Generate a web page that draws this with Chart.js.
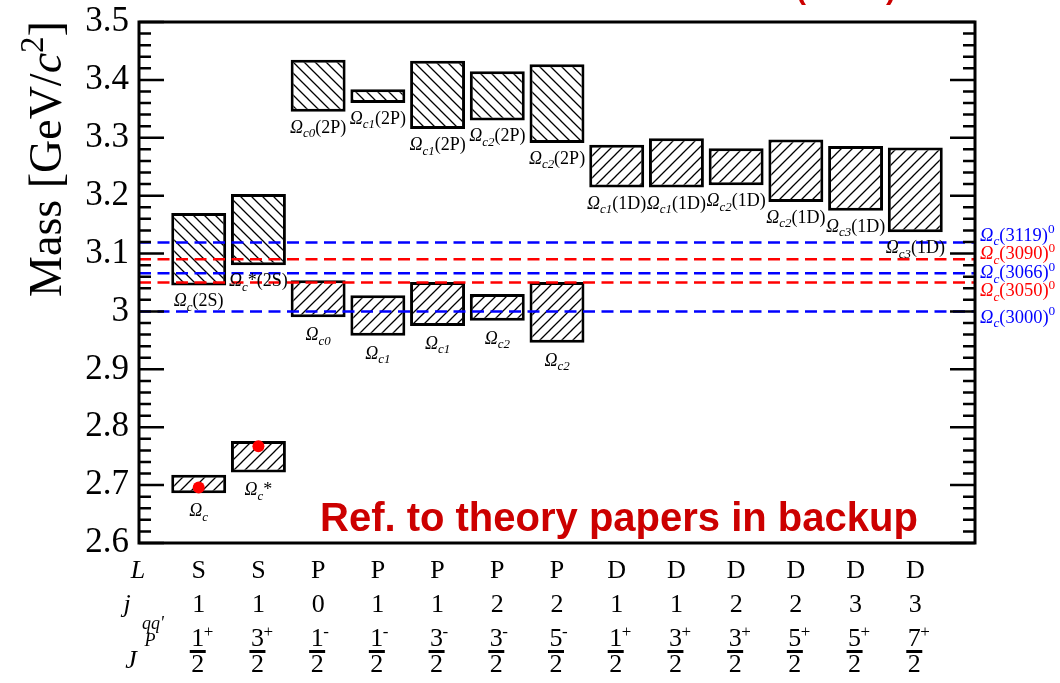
<!DOCTYPE html>
<html>
<head>
<meta charset="utf-8">
<title>Omega_c mass spectrum</title>
<script src="https://cdn.jsdelivr.net/npm/chart.js@4.4.1/dist/chart.umd.min.js"></script>
<style>
  html, body { margin: 0; padding: 0; background: #fff; }
  canvas { display: block; }
</style>
</head>
<body>
<canvas id="massChart" width="1060" height="683"></canvas>
<script>
// quantum numbers of the 13 columns
const columnL = ["S", "S", "P", "P", "P", "P", "P", "D", "D", "D", "D", "D", "D"];
const columnJqq = ["1", "1", "0", "1", "1", "2", "2", "1", "1", "2", "2", "3", "3"];
const spinNum = ["1", "3", "1", "1", "3", "3", "5", "1", "3", "3", "5", "5", "7"];
const parity = ["+", "+", "-", "-", "-", "-", "-", "+", "+", "+", "+", "+", "+"];

// predicted mass ranges (GeV), lower states (1S / 1P), columns 1..7
const groundNames = ["Ω_{c}", "Ω_{c}*", "Ω_{c0}", "Ω_{c1}", "Ω_{c1}", "Ω_{c2}", "Ω_{c2}"];
const groundLow = [2.686, 2.722, 2.990, 2.958, 2.975, 2.984, 2.946];
const groundHigh = [2.718, 2.776, 3.054, 3.028, 3.051, 3.030, 3.051];

// predicted mass ranges (GeV), excited states (2S / 2P / 1D), columns 1..13
const excitedNames = ["Ω_{c}(2S)", "Ω_{c}*(2S)", "Ω_{c0}(2P)", "Ω_{c1}(2P)", "Ω_{c1}(2P)", "Ω_{c2}(2P)", "Ω_{c2}(2P)",
  "Ω_{c1}(1D)", "Ω_{c1}(1D)", "Ω_{c2}(1D)", "Ω_{c2}(1D)", "Ω_{c3}(1D)", "Ω_{c3}(1D)"];
const excitedLow = [3.045, 3.080, 3.345, 3.360, 3.315, 3.330, 3.291, 3.214, 3.214, 3.218, 3.189, 3.174, 3.137];
const excitedHigh = [3.170, 3.203, 3.435, 3.384, 3.433, 3.415, 3.427, 3.288, 3.299, 3.282, 3.297, 3.286, 3.283];

// known ground states (red dots)
const measuredColumn = [1, 2];
const measuredMass = [2.696, 2.767];

// observed states (dashed lines)
const stateNames = ["Ω_{c}(3000)^{0}", "Ω_{c}(3050)^{0}", "Ω_{c}(3066)^{0}", "Ω_{c}(3090)^{0}", "Ω_{c}(3119)^{0}"];
const stateMass = [3.000, 3.050, 3.066, 3.090, 3.119];

const SERIF = '"Liberation Serif", "Times New Roman", serif';
const BLUE = "#0000ff";
const RED = "#ff0000";
const stateColors = [BLUE, RED, BLUE, RED, BLUE];
const stateLabelShift = [5, 7.5, -1, -6, -8]; // px, keeps the right labels apart

Chart.defaults.font.family = SERIF;

// diagonal hatch fill
function makeHatch(ctx, dir) {
  const s = 11;
  const c = document.createElement("canvas");
  c.width = s;
  c.height = s;
  const g = c.getContext("2d");
  g.fillStyle = "#fff";
  g.fillRect(0, 0, s, s);
  g.strokeStyle = "#000";
  g.lineWidth = 1.3;
  g.beginPath();
  if (dir === "/") {
    g.moveTo(-1, s + 1); g.lineTo(s + 1, -1);
    g.moveTo(-1, 1); g.lineTo(1, -1);
    g.moveTo(s - 1, s + 1); g.lineTo(s + 1, s - 1);
  } else {
    g.moveTo(-1, -1); g.lineTo(s + 1, s + 1);
    g.moveTo(s - 1, -1); g.lineTo(s + 1, 1);
    g.moveTo(-1, s - 1); g.lineTo(1, s + 1);
  }
  g.stroke();
  return ctx.createPattern(c, "repeat");
}

// tiny markup: Ω italic, {..} italic, _{..} italic subscript, ^{..} superscript
function parseRich(str) {
  const parts = [];
  let i = 0;
  while (i < str.length) {
    const ch = str[i];
    if ((ch === "_" || ch === "^") && str[i + 1] === "{") {
      const end = str.indexOf("}", i);
      parts.push({ text: str.slice(i + 2, end), mode: ch === "_" ? "sub" : "sup" });
      i = end + 1;
    } else if (ch === "{") {
      const end = str.indexOf("}", i);
      parts.push({ text: str.slice(i + 1, end), mode: "it" });
      i = end + 1;
    } else if (ch === "Ω") {
      parts.push({ text: ch, mode: "it" });
      i++;
    } else {
      let j = i;
      while (j < str.length && !"_^{Ω".includes(str[j])) j++;
      parts.push({ text: str.slice(i, j), mode: "rm" });
      i = j;
    }
  }
  return parts;
}

function partFont(p, size) {
  const small = p.mode === "sub" || p.mode === "sup";
  const italic = p.mode === "it" || p.mode === "sub";
  return (italic ? "italic " : "") + (small ? size * 0.72 : size) + "px " + SERIF;
}

// y is the visual middle of the main text
function drawRich(ctx, str, x, y, size, align, color) {
  const parts = parseRich(str);
  ctx.save();
  ctx.textAlign = "left";
  ctx.textBaseline = "alphabetic";
  ctx.fillStyle = color || "#000";
  let total = 0;
  parts.forEach((p) => {
    ctx.font = partFont(p, size);
    p.w = ctx.measureText(p.text).width;
    total += p.w;
  });
  let cx = align === "center" ? x - total / 2 : align === "right" ? x - total : x;
  const base = y + size * 0.33;
  parts.forEach((p) => {
    ctx.font = partFont(p, size);
    let shift = 0;
    if (p.mode === "sub") shift = size * 0.25;
    if (p.mode === "sup") shift = -size * 0.4;
    ctx.fillText(p.text, cx, base + shift);
    cx += p.w;
  });
  ctx.restore();
}

const decorations = {
  id: "decorations",
  afterDatasetsDraw(chart) {
    const ctx = chart.ctx;
    const area = chart.chartArea;
    const y = chart.scales.y;

    ctx.save();
    ctx.strokeStyle = "#000";
    ctx.lineWidth = 3;
    ctx.strokeRect(area.left, area.top, area.right - area.left, area.bottom - area.top);

    // inward ticks on both sides, minor every 0.02
    ctx.lineWidth = 2.5;
    const steps = Math.round((y.max - y.min) / 0.02);
    for (let k = 0; k <= steps; k++) {
      const py = y.getPixelForValue(y.min + k * 0.02);
      const len = k % 5 === 0 ? 25 : 12;
      ctx.beginPath();
      ctx.moveTo(area.left, py);
      ctx.lineTo(area.left + len, py);
      ctx.moveTo(area.right, py);
      ctx.lineTo(area.right - len, py);
      ctx.stroke();
    }
    ctx.restore();
  },
  afterDraw(chart) {
    const ctx = chart.ctx;
    const area = chart.chartArea;
    const x = chart.scales.x;
    const y = chart.scales.y;

    // box labels
    groundNames.forEach((name, i) => {
      drawRich(ctx, name, x.getPixelForValue(i + 1), y.getPixelForValue(groundLow[i]) + 17, 18, "center");
    });
    excitedNames.forEach((name, i) => {
      drawRich(ctx, name, x.getPixelForValue(i + 1), y.getPixelForValue(excitedLow[i]) + 15, 18, "center");
    });

    // observed state names on the right
    stateNames.forEach((name, i) => {
      drawRich(ctx, name, area.right + 5, y.getPixelForValue(stateMass[i]) + stateLabelShift[i], 18.5, "left", stateColors[i]);
    });

    // y axis title
    ctx.save();
    ctx.translate(46, 159);
    ctx.rotate(-Math.PI / 2);
    drawRich(ctx, "Mass [GeV/{c}^{2}]", 0, 0, 46, "center");
    ctx.restore();

    // quantum number table under the plot
    ctx.save();
    ctx.fillStyle = "#000";
    ctx.textBaseline = "middle";
    for (let i = 0; i < columnL.length; i++) {
      const px = x.getPixelForValue(i + 1);
      ctx.textAlign = "center";
      ctx.font = "26px " + SERIF;
      ctx.fillText(columnL[i], px, 571);
      ctx.fillText(columnJqq[i], px, 605);
      const fx = px - 1;
      ctx.fillText(spinNum[i], fx, 639);
      ctx.fillText("2", fx, 665);
      ctx.fillRect(fx - 8, 650, 16, 3);
      ctx.textAlign = "left";
      ctx.font = "17px " + SERIF;
      ctx.fillText(parity[i], fx + 6, 633);
    }
    ctx.textAlign = "center";
    ctx.font = "italic 26px " + SERIF;
    ctx.fillText("L", 138, 571);
    ctx.fillText("j", 127, 605);
    ctx.fillText("J", 131, 661);
    ctx.font = "italic 18px " + SERIF;
    ctx.fillText("qq'", 153, 624);
    ctx.fillText("P", 150, 641);

    // red slide texts
    ctx.fillStyle = "#cc0000";
    ctx.textAlign = "left";
    ctx.textBaseline = "alphabetic";
    ctx.font = 'bold 40px "Liberation Sans", Arial, sans-serif';
    ctx.fillText("Ref. to theory papers in backup", 320, 531);
    ctx.font = 'bold 30px "Liberation Sans", Arial, sans-serif';
    ctx.fillText("(LHCb)", 796, -1);
    ctx.restore();
  }
};

document.addEventListener("DOMContentLoaded", function () {
  const canvas = document.getElementById("massChart");
  const ctx = canvas.getContext("2d");
  const forward = makeHatch(ctx, "/");
  const backward = makeHatch(ctx, "\\");

  const groundBars = groundLow.map((lo, i) => ({ x: i + 1, y: [lo, groundHigh[i]] }));
  const excitedBars = excitedLow.map((lo, i) => ({ x: i + 1, y: [lo, excitedHigh[i]] }));
  // 2S and 2P boxes are hatched the other way
  const excitedFill = excitedNames.map((n) => (n.includes("1D") ? forward : backward));

  const boxStyle = {
    type: "bar",
    borderColor: "#000",
    borderWidth: 3,
    borderSkipped: false,
    grouped: false,
    categoryPercentage: 1,
    barPercentage: 0.92,
    order: 3
  };

  const lineSets = stateMass.map((m, i) => ({
    type: "line",
    data: [{ x: 0, y: m }, { x: 14, y: m }],
    borderColor: stateColors[i],
    borderWidth: 2.5,
    borderDash: [12, 6.5],
    pointRadius: 0,
    fill: false,
    order: 2
  }));

  new Chart(ctx, {
    type: "bar",
    data: {
      datasets: [
        Object.assign({ data: excitedBars, backgroundColor: excitedFill }, boxStyle),
        Object.assign({ data: groundBars, backgroundColor: forward }, boxStyle),
        ...lineSets,
        {
          type: "line",
          showLine: false,
          data: measuredColumn.map((c, i) => ({ x: c, y: measuredMass[i] })),
          pointRadius: 6,
          pointBackgroundColor: RED,
          pointBorderWidth: 0,
          order: 1
        }
      ]
    },
    options: {
      responsive: false,
      animation: false,
      devicePixelRatio: 1,
      layout: { padding: { left: 0, right: 85, top: 22, bottom: 140 } },
      plugins: { legend: { display: false }, tooltip: { enabled: false } },
      scales: {
        x: {
          type: "linear",
          min: 0,
          max: 14,
          offset: false,
          display: false,
          ticks: { stepSize: 1 },
          grid: { display: false }
        },
        y: {
          type: "linear",
          min: 2.6,
          max: 3.5,
          grid: { display: false, drawTicks: false },
          border: { display: false },
          ticks: {
            stepSize: 0.1,
            autoSkip: false,
            padding: 10,
            color: "#000",
            font: { size: 35, family: SERIF },
            callback: (v) => String(parseFloat(v.toFixed(1)))
          },
          afterFit(scale) {
            scale.width = 139;
            scale.paddingTop = 0;
            scale.paddingBottom = 0;
          }
        }
      }
    },
    plugins: [decorations]
  });
});
</script>
</body>
</html>
